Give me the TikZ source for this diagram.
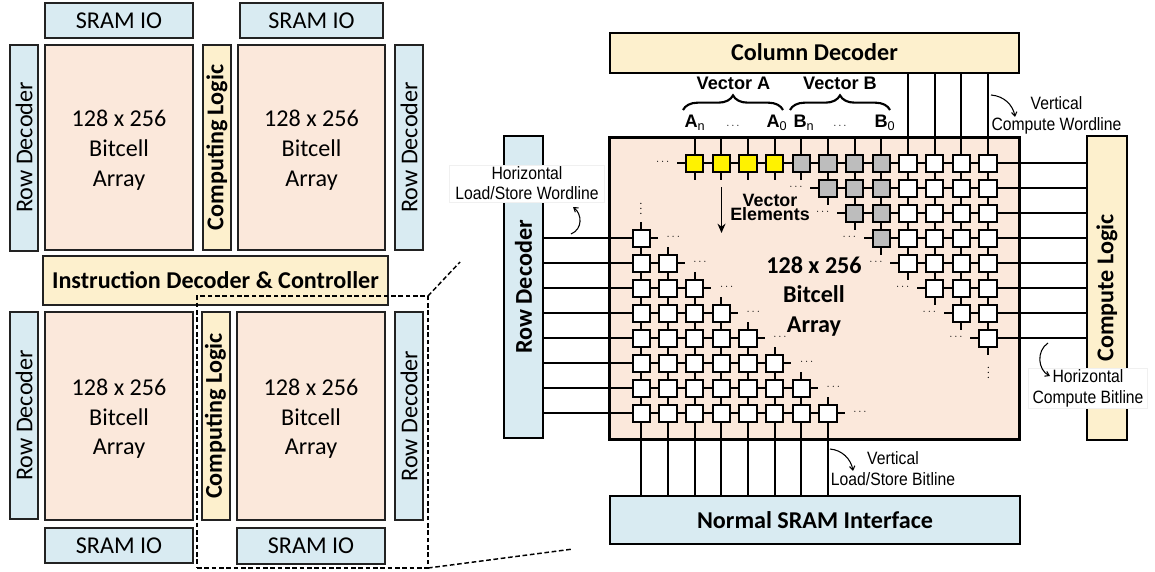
\documentclass[tikz,border=0pt]{standalone}
\usepackage{fontspec}
\setmainfont{Carlito}
\newfontfamily\notefont[FakeStretch=0.88]{Liberation Sans}
\newfontfamily\headfont{Liberation Sans}
\usetikzlibrary{arrows.meta,calc,decorations.pathreplacing}
\definecolor{Peach}{HTML}{FBE8DB}
\definecolor{Cream}{HTML}{FDF0CD}
\definecolor{Pale}{HTML}{D9EBF2}
\definecolor{Edge}{HTML}{222222}
\definecolor{Cellgray}{HTML}{BDBDBD}
\definecolor{Faint}{HTML}{F0F0F0}
\newcommand{\upright}[1]{\rotatebox{90}{#1}}
\newcommand{\arraytext}{\rule{0pt}{16.5pt}128 x 256\\Bitcell\\Array}

\begin{document}
\begin{tikzpicture}[x=0.75pt,y=-0.75pt,
  box/.style={draw=Edge,line width=1.5pt,outer sep=0pt,inner sep=0pt,align=center,
    font=\fontsize{18.1}{22.2}\selectfont},
  array/.style={box,fill=Peach,minimum width=111pt},
  io/.style={box,fill=Pale,minimum width=111pt,minimum height=26.5pt},
  rowdec/.style={box,fill=Pale,minimum width=21pt},
  logic/.style={box,fill=Cream,minimum width=21pt,font=\fontsize{18.1}{22.2}\selectfont\bfseries},
  bigbox/.style={box,draw=black,minimum width=307pt,font=\fontsize{18.1}{22.2}\selectfont\bfseries},
  cell/.style={draw=black,fill=white,line width=1.7pt,minimum width=13pt,minimum height=12.6pt,
    inner sep=0pt,outer sep=0pt},
  wire/.style={line width=1.6pt,black},
  note/.style={font=\notefont\fontsize{13.4}{15.5}\selectfont,align=center,inner sep=0pt},
  notebox/.style={fill=white,draw=Faint,line width=0.5pt,inner sep=0pt},
  head/.style={font=\headfont\fontsize{13.6}{15}\selectfont\bfseries,inner sep=0pt},
  dots/.style={font=\footnotesize,inner sep=0pt},
  curl/.style={-{Straight Barb[length=3pt,width=4pt]},line width=0.8pt,black},
  zoomline/.style={dash pattern=on 3.5pt off 2pt,line width=1.1pt,black}]
  \useasboundingbox (0,0) rectangle (1155,571);

  % top bank
  \node[io] (iotl) at (119,20.5) {SRAM IO};
  \node[io,minimum width=107pt] (iotr) at (311.5,20.5) {SRAM IO};
  \node[rowdec,minimum height=154.5pt] (rdtl) at (24,147.5) {\upright{Row Decoder}};
  \node[array,minimum height=154pt] (artl) at (119,147.5) {\arraytext};
  \node[logic,minimum height=154pt] (cltop) at (217,147.5) {\upright{Computing Logic}};
  \node[array,minimum height=154pt,minimum width=110pt] (artr) at (311.5,147.5) {\arraytext};
  \node[rowdec,minimum height=154pt] (rdtr) at (409,147.5) {\upright{Row Decoder}};

  \node[box,fill=Cream,minimum width=258.5pt,minimum height=36.5pt,
    font=\fontsize{18.1}{22.2}\selectfont\bfseries] (ctrl) at (215.5,280.5) {Instruction Decoder \& Controller};

  % bottom bank
  \node[rowdec,minimum height=155.5pt] (rdbl) at (24,415.5) {\upright{Row Decoder}};
  \node[array,minimum height=156pt] (arbl) at (119,416) {\arraytext};
  \node[logic,minimum height=156pt] (clbot) at (215.5,416) {\upright{Computing Logic}};
  \node[array,minimum height=156pt] (arbr) at (311,416) {\arraytext};
  \node[rowdec,minimum height=156pt] (rdbr) at (409,416) {\upright{Row Decoder}};
  \node[io] (iobl) at (119,545.5) {SRAM IO};
  \node[io] (iobr) at (311,546) {SRAM IO};

  % zoom outline
  \node[draw=black,zoomline,minimum width=173.25pt,minimum height=204pt,
    inner sep=0pt,outer sep=0pt] (zoom) at (312.5,432) {};
  \coordinate (zoomtop) at (460,262);
  \coordinate (zoombot) at (573,549);
  \draw[zoomline] (zoom.north east) -- (zoomtop);
  \draw[zoomline] (zoom.south east) -- (zoombot);

  % big array
  \node[bigbox,fill=Cream,minimum height=30pt] (coldec) at (814.5,52.5) {Column Decoder};
  \node[bigbox,fill=Pale,minimum height=36pt] (sram) at (815,520) {Normal SRAM Interface};
  \node[box,draw=black,fill=Pale,minimum width=29.25pt,minimum height=227pt,
    font=\fontsize{18.1}{22.2}\selectfont\bfseries] (rowd) at (523.5,287) {\upright{Row Decoder}};
  \node[box,draw=black,fill=Cream,minimum width=30pt,minimum height=228pt,
    font=\fontsize{18.1}{22.2}\selectfont\bfseries] (compl) at (1107,288) {\upright{Compute Logic}};
  \node[draw=black,fill=Peach,line width=2.2pt,minimum width=307pt,minimum height=227pt,
    inner sep=0pt,outer sep=0pt] (bits) at (814.5,288.5) {};
  \node[inner sep=0pt,align=center,font=\fontsize{18.1}{22.2}\selectfont\bfseries] (bitstext) at (814,296.5)
    {128 x 256\\Bitcell\\Array};

  % upper right cells
  \foreach \r/\s in {0/2,1/7,2/8,3/9,4/10,5/11,6/12,7/13} {
    \foreach \c in {\s,...,13} {
      \ifnum\c<6 \def\cellcol{yellow}\else\ifnum\c<10 \def\cellcol{Cellgray}\else\def\cellcol{white}\fi\fi
      \node[cell,fill=\cellcol] (u-\r-\c) at ({641.3+26.67*\c},{163.3+25*\r}) {};
    }
    \draw[wire] (u-\r-\s.west) -- ++(-9,0);
    \node[dots] (ud-\r) at ({641.3+26.67*\s-32},{163.3+25*\r-1}) {$\cdots$};
    \draw[wire] (u-\r-13.east) -- (u-\r-13.east -| compl.west);
  }
  \foreach \r/\s in {0/2,1/7,2/8,3/9,4/10,5/11,6/12} {
    \foreach \c in {\s,...,12} {
      \pgfmathtruncatemacro{\n}{\c+1}
      \draw[wire] (u-\r-\c.east) -- (u-\r-\n.west);
    }
  }
  \foreach \r/\s in {0/7,1/8,2/9,3/10,4/11,5/12,6/13} {
    \pgfmathtruncatemacro{\n}{\r+1}
    \foreach \c in {\s,...,13} \draw[wire] (u-\r-\c.south) -- (u-\n-\c.north);
  }
  \foreach \r/\c in {0/2,0/3,0/4,0/5,0/6,1/7,2/8,3/9,4/10,5/11,6/12,7/13}
    \draw[wire] (u-\r-\c.south) -- ++(0,8);
  \foreach \c in {2,...,9} \draw[wire] (u-0-\c.north) -- (u-0-\c.north |- bits.north);
  \foreach \c in {10,...,13} \draw[wire] (u-0-\c.north) -- (u-0-\c.north |- coldec.south);
  \node[dots] (uvd) at (988.5,369) {$\vdots$};

  % lower left cells
  \foreach \r in {0,...,7} {
    \foreach \c in {0,...,\r} {
      \node[cell] (l-\r-\c) at ({641.3+26.67*\c},{238.3+25*\r}) {};
    }
    \draw[wire] (l-\r-0.west) -- (l-\r-0.west -| rowd.east);
    \draw[wire] (l-\r-\r.north) -- ++(0,-8);
    \draw[wire] (l-\r-\r.east) -- ++(8,0);
    \node[dots] (ld-\r) at ({641.3+26.67*\r+32},{238.3+25*\r-1}) {$\cdots$};
  }
  \foreach \r in {1,...,7} {
    \pgfmathtruncatemacro{\m}{\r-1}
    \foreach \c in {0,...,\m} {
      \pgfmathtruncatemacro{\n}{\c+1}
      \draw[wire] (l-\r-\c.east) -- (l-\r-\n.west);
      \draw[wire] (l-\m-\c.south) -- (l-\r-\c.north);
    }
  }
  \foreach \c in {0,...,7} \draw[wire] (l-7-\c.south) -- (l-7-\c.south |- sram.north);
  \node[dots] (lvd) at (641,205) {$\vdots$};

  % vector labels
  \node[head] (veca) at (733.5,83) {Vector A};
  \node[head] (vecb) at (840,83) {Vector B};
  \draw[line width=1.6pt,decorate,decoration={brace,amplitude=11pt}] (683,110) -- (783,110);
  \draw[line width=1.6pt,decorate,decoration={brace,amplitude=11pt}] (790,110) -- (890,110);
  \node[head] (an) at (695,123) {A\textsubscript{\mdseries n}};
  \node[dots] (adots) at (733,126) {$\cdots$};
  \node[head] (a0) at (777,123) {A\textsubscript{\mdseries 0}};
  \node[head] (bn) at (804,123) {B\textsubscript{\mdseries n}};
  \node[dots] (bdots) at (840,126) {$\cdots$};
  \node[head] (b0) at (885,123) {B\textsubscript{\mdseries 0}};

  \node[head,align=center,font=\headfont\fontsize{13.4}{10}\selectfont\bfseries] (elems) at (770,207.5) {Vector\\Elements};
  \coordinate (elemtop) at (721.5,187);
  \coordinate (elembot) at (721.5,233);
  \draw[-{Stealth[length=7pt,width=6pt]},line width=1.3pt] (elemtop) -- (elembot);

  % line labels
  \node[notebox,minimum width=116pt,minimum height=28pt] (wlbox) at (526.5,183.5) {};
  \node[note] (wl) at (527,183) {Horizontal\\Load/Store Wordline};
  \node[notebox,minimum width=89pt,minimum height=30pt] (blbox) at (1087.5,388) {};
  \node[note] (bl) at (1088,388.5) {Horizontal\\Compute Bitline};
  \node[note] (cw) at (1056.5,115.5) {Vertical\\Compute Wordline};
  \node[note] (lb) at (893,468.5) {Vertical\\Load/Store Bitline};

  \draw[curl] (991,95) .. controls (1004,96) and (1013,105) .. (1015,117);
  \draw[curl] (571,234) .. controls (583,229) and (582,214) .. (573,207);
  \draw[curl] (1048,343) .. controls (1036,351) and (1038,370) .. (1050,376);
  \draw[curl] (830,449) .. controls (842,450) and (851,459) .. (853,471);
\end{tikzpicture}
\end{document}
